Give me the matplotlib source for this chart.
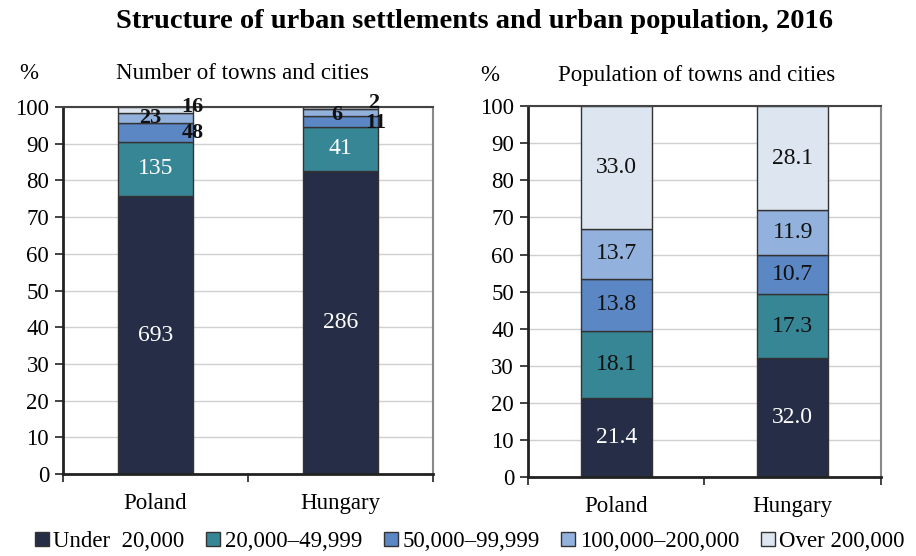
import numpy as np
import matplotlib.pyplot as plt

plt.rcParams['font.family'] = ['Liberation Serif', 'DejaVu Serif']

countries = ["Poland", "Hungary"]
size_groups = ["Under  20,000", "20,000\u201349,999", "50,000\u201399,999",
               "100,000\u2013200,000", "Over 200,000"]
colors = ["#252e46", "#378695", "#5b87c5", "#92b1dd", "#dce5f0"]

# number of towns and cities (counts, shown as share of total)
towns_poland = [693, 135, 48, 23, 16]
towns_hungary = [286, 41, 11, 6, 2]

# population share, %
pop_poland = [21.4, 18.1, 13.8, 13.7, 33.0]
pop_hungary = [32.0, 17.3, 10.7, 11.9, 28.1]

fs = 16.5

fig = plt.figure(figsize=(9.16, 5.56), dpi=100)
ax1 = fig.add_axes([0.0688, 0.1475, 0.404, 0.660])
ax2 = fig.add_axes([0.5764, 0.142, 0.3854, 0.667])

fig.text(0.518, 0.962, "Structure of urban settlements and urban population, 2016",
         ha="center", va="center", fontsize=20.5, fontweight="bold")


def style_axes(ax):
    ax.set_xlim(-0.5, 1.5)
    ax.set_ylim(0, 100)
    ax.set_yticks(np.arange(0, 101, 10))
    ax.yaxis.grid(True, color="#d0d0d0", lw=1)
    ax.set_axisbelow(True)
    ax.tick_params(axis="y", labelsize=fs, direction="out", length=6, width=1.2, color="#222", pad=4)
    ax.set_xticks([-0.5, 0.5, 1.5])
    ax.set_xticklabels([])
    ax.tick_params(axis="x", direction="out", length=6, width=1.2, color="#222")
    ax.set_xticks([0, 1], minor=True)
    ax.set_xticklabels(countries, minor=True)
    ax.tick_params(axis="x", which="minor", length=0, labelsize=fs, pad=14)
    for s in ["left", "bottom"]:
        ax.spines[s].set_color("#222")
        ax.spines[s].set_linewidth(2)
    ax.spines["top"].set_color("#444")
    ax.spines["top"].set_linewidth(1.5)
    ax.spines["right"].set_color("#888")
    ax.spines["right"].set_linewidth(1.5)


# left: number of towns and cities
town_pct = []
for vals in [towns_poland, towns_hungary]:
    v = np.array(vals, dtype=float)
    town_pct.append(v / v.sum() * 100)
town_pct = np.array(town_pct)
bottom = np.zeros(2)
for i in range(5):
    ax1.bar([0, 1], town_pct[:, i], 0.405, bottom=bottom, color=colors[i],
            edgecolor="#333", lw=1, label=size_groups[i])
    bottom += town_pct[:, i]

# labels of the big segments (white)
cum = np.cumsum(town_pct, axis=1)
for j, vals in enumerate([towns_poland, towns_hungary]):
    for i in range(2):
        mid = cum[j, i] - town_pct[j, i] / 2
        ax1.text(j, mid, str(vals[i]), ha="center", va="center", color="white", fontsize=17)

# small segments, bold, offset as in the original
bold = dict(ha="center", va="center", fontsize=16, fontweight="bold", color="#111")
ax1.text(-0.03, 97.0, str(towns_poland[3]), **bold)
ax1.text(0.2, 93.0, str(towns_poland[2]), **bold)
ax1.text(0.2, 100.0, str(towns_poland[4]), **bold)
ax1.text(0.98, 97.8, str(towns_hungary[3]), **bold)
ax1.text(1.19, 95.6, str(towns_hungary[2]), **bold)
ax1.text(1.18, 101.0, str(towns_hungary[4]), **bold)

style_axes(ax1)
fig.text(0.031, 0.868, "%", ha="center", va="center", fontsize=fs)
fig.text(0.265, 0.868, "Number of towns and cities", ha="center", va="center", fontsize=fs)

# right: population of towns and cities
pop = np.array([pop_poland, pop_hungary])
bottom = np.zeros(2)
for i in range(5):
    ax2.bar([0, 1], pop[:, i], 0.40, bottom=bottom, color=colors[i],
            edgecolor="#333", lw=1)
    for j in range(2):
        ax2.text(j, bottom[j] + pop[j, i] / 2, f"{pop[j, i]:.1f}", ha="center", va="center",
                 color="white" if i == 0 else "#111", fontsize=17)
    bottom += pop[:, i]

style_axes(ax2)
fig.text(0.535, 0.865, "%", ha="center", va="center", fontsize=fs)
fig.text(0.761, 0.865, "Population of towns and cities", ha="center", va="center", fontsize=fs)

handles, labels = ax1.get_legend_handles_labels()
fig.legend(handles, labels, loc="center", bbox_to_anchor=(0.513, 0.026), ncol=5,
           frameon=False, fontsize=fs, handlelength=0.6, handleheight=0.6,
           handletextpad=0.2, columnspacing=0.95, borderaxespad=0)

fig.savefig("out.png", dpi=100)
